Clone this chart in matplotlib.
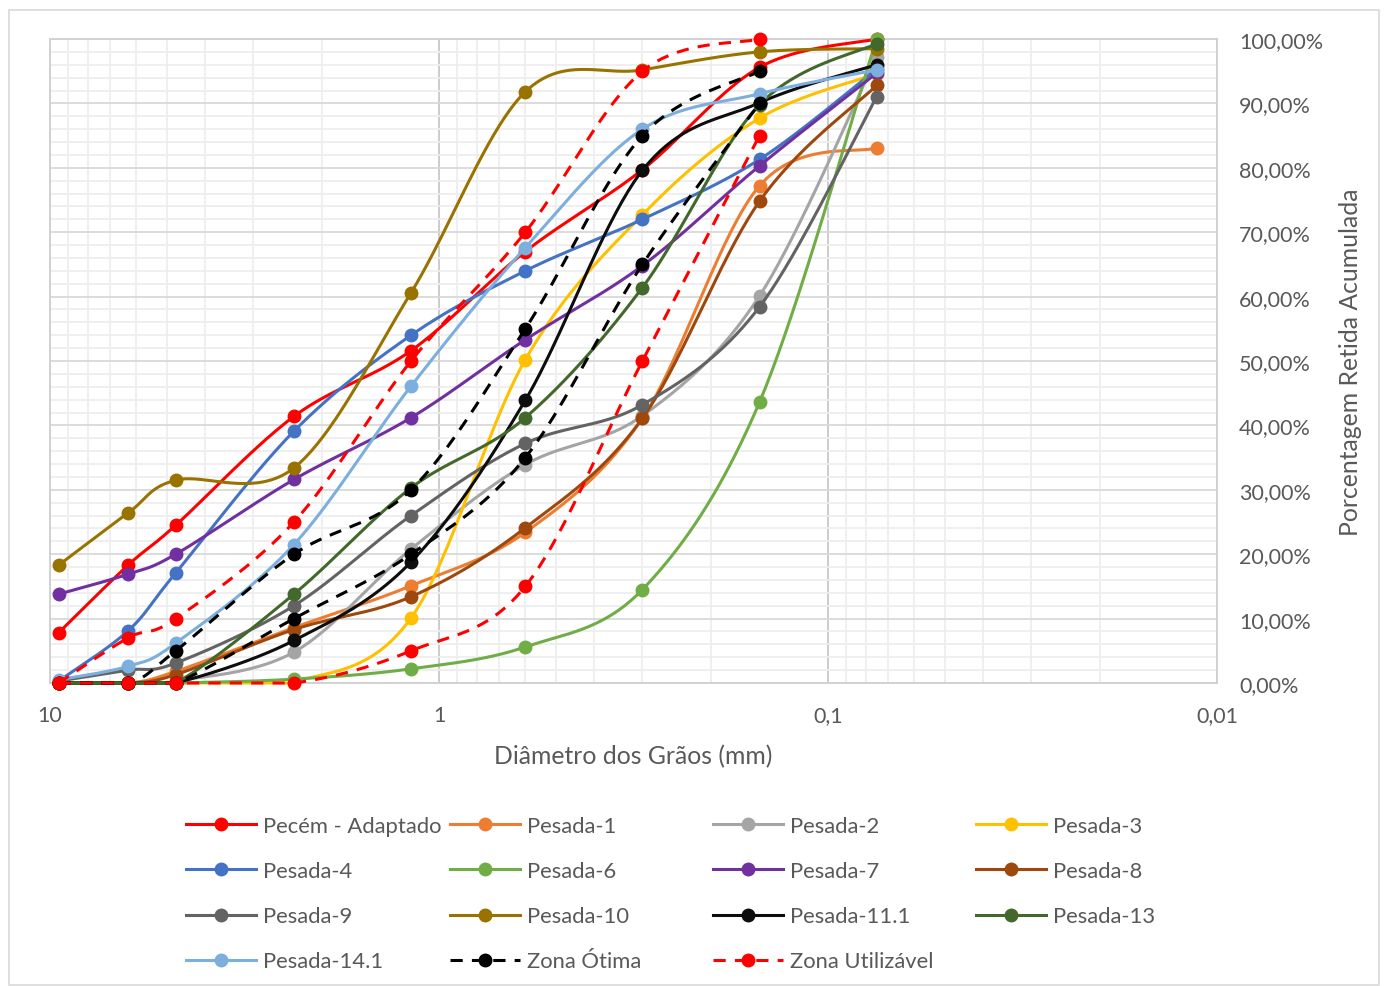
import numpy as np
import matplotlib
matplotlib.use("Agg")
import matplotlib.pyplot as plt
from matplotlib.lines import Line2D
from matplotlib.patches import Rectangle
from matplotlib.ticker import FixedLocator, FuncFormatter, MultipleLocator, LogLocator, NullFormatter

plt.rcParams['font.family'] = ['Lato', 'DejaVu Sans']

# Sieve openings (mm) and cumulative retained percentages
sieve_mm = [9.5, 6.3, 4.75, 2.36, 1.18, 0.6, 0.3, 0.15, 0.075]

pecem_adaptado = [7.8, 18.3, 24.5, 41.4, 51.6, 67.0, 79.7, 95.6, 100.0]
pesada_1 = [0.0, 0.0, 1.8, 8.6, 15.1, 23.4, 41.1, 77.2, 83.1]
pesada_2 = [0.0, 0.0, 0.3, 4.8, 20.8, 33.9, 41.5, 60.1, 97.2]
pesada_3 = [0.0, 0.0, 0.0, 0.2, 10.1, 50.2, 72.7, 87.7, 94.6]
pesada_4 = [0.3, 8.1, 17.1, 39.1, 54.0, 64.0, 72.0, 81.3, 95.3]
pesada_6 = [0.0, 0.0, 0.0, 0.6, 2.2, 5.6, 14.5, 43.6, 100.0]
pesada_7 = [13.8, 16.9, 20.0, 31.6, 41.2, 53.3, 64.8, 80.3, 94.7]
pesada_8 = [0.0, 0.0, 1.3, 8.3, 13.4, 24.1, 41.1, 74.8, 92.8]
pesada_9 = [0.3, 2.0, 3.1, 12.0, 26.0, 37.2, 43.2, 58.4, 91.0]
pesada_10 = [18.3, 26.4, 31.5, 33.4, 60.6, 91.8, 95.2, 98.0, 98.5]
pesada_11_1 = [0.0, 0.0, 0.0, 6.6, 18.8, 43.9, 79.6, 90.1, 96.0]
pesada_13 = [0.0, 0.0, 0.0, 13.8, 30.3, 41.2, 61.4, 89.8, 99.3]
pesada_14_1 = [0.5, 2.6, 6.2, 21.5, 46.1, 67.6, 86.0, 91.5, 95.2]

# Grading limits (up to the 0.15 mm sieve)
zona_otima_inf = [0, 0, 0, 10, 20, 35, 65, 90]
zona_otima_sup = [0, 0, 5, 20, 30, 55, 85, 95]
zona_util_inf = [0, 0, 0, 0, 5, 15, 50, 85]
zona_util_sup = [0, 7, 10, 25, 50, 70, 95, 100]

x_tick_values = [10, 1, 0.1, 0.01]
x_tick_labels = ["10", "1", "0,1", "0,01"]

TEXT = "#595959"

# (label, values, color, dashed)
series = [
    ("Pecém - Adaptado", pecem_adaptado, "#FF0000", False),
    ("Pesada-1", pesada_1, "#ED7D31", False),
    ("Pesada-2", pesada_2, "#A5A5A5", False),
    ("Pesada-3", pesada_3, "#FFC000", False),
    ("Pesada-4", pesada_4, "#4472C4", False),
    ("Pesada-6", pesada_6, "#70AD47", False),
    ("Pesada-7", pesada_7, "#7030A0", False),
    ("Pesada-8", pesada_8, "#9E480E", False),
    ("Pesada-9", pesada_9, "#636363", False),
    ("Pesada-10", pesada_10, "#997300", False),
    ("Pesada-11.1", pesada_11_1, "#0D0D0D", False),
    ("Pesada-13", pesada_13, "#43682B", False),
    ("Pesada-14.1", pesada_14_1, "#7CAFDD", False),
    ("Zona Ótima", zona_otima_inf, "#000000", True),
    (None, zona_otima_sup, "#000000", True),
    ("Zona Utilizável", zona_util_inf, "#FF0000", True),
    (None, zona_util_sup, "#FF0000", True),
]


def smooth_curve(x, y, steps=40):
    """Bezier smoothing through the points (Catmull-Rom style control points),
    evaluated in log10(x) space so it follows the log axis."""
    lx = np.log10(np.asarray(x, float))
    yy = np.asarray(y, float)
    px = np.concatenate([[lx[0]], lx, [lx[-1]]])
    py = np.concatenate([[yy[0]], yy, [yy[-1]]])
    t = np.linspace(0, 1, steps + 1)[1:]
    out_x, out_y = [lx[0]], [yy[0]]
    for i in range(len(lx) - 1):
        p0 = np.array([px[i], py[i]])
        p1 = np.array([px[i + 1], py[i + 1]])
        p2 = np.array([px[i + 2], py[i + 2]])
        p3 = np.array([px[i + 3], py[i + 3]])
        c1 = p1 + (p2 - p0) / 6.0
        c2 = p2 - (p3 - p1) / 6.0
        b = ((1 - t) ** 3)[:, None] * p1 + (3 * (1 - t) ** 2 * t)[:, None] * c1 \
            + (3 * (1 - t) * t ** 2)[:, None] * c2 + (t ** 3)[:, None] * p2
        out_x.extend(b[:, 0])
        out_y.extend(b[:, 1])
    out_y = np.clip(out_y, 0, 100)
    return 10 ** np.asarray(out_x), out_y


W, H, DPI = 1388, 987, 100
fig = plt.figure(figsize=(W / DPI, H / DPI), dpi=DPI)
fig.patch.set_facecolor("white")

# chart area outline
fig.add_artist(Rectangle((8.5 / W, 1 - 985.5 / H), (1378.5 - 8.5) / W, (985.5 - 10.5) / H,
                         transform=fig.transFigure, fill=False, edgecolor="#D9D9D9", lw=1.2))

ax = fig.add_axes([50 / W, 1 - 684 / H, (1217 - 50) / W, (684 - 40) / H])
ax.set_xscale("log")
ax.set_xlim(10, 0.01)
ax.set_ylim(0, 100)

LW = 2.2
MS = 9
handles = {}
for k, (label, vals, color, dashed) in enumerate(series):
    xs = sieve_mm[:len(vals)]
    sx, sy = smooth_curve(xs, vals)
    ls_kw = dict(dashes=(4, 3)) if dashed else dict(linestyle="-")
    ax.plot(sx, sy, color=color, lw=LW, solid_capstyle="round", dash_capstyle="butt",
            clip_on=False, zorder=3 + 2 * k, **ls_kw)
    ax.plot(xs, vals, linestyle="none", marker="o", ms=MS, color=color, mec=color,
            clip_on=False, zorder=4 + 2 * k)
    if label:
        handles[label] = Line2D([], [], color=color, lw=LW, marker="o", ms=MS, mec=color, **ls_kw)

# ticks and grid
ax.xaxis.set_major_locator(FixedLocator(x_tick_values))
ax.xaxis.set_major_formatter(FuncFormatter(lambda v, p: dict(zip(x_tick_values, x_tick_labels)).get(v, "")))
ax.xaxis.set_minor_locator(LogLocator(base=10, subs=np.arange(2, 10)))
ax.xaxis.set_minor_formatter(NullFormatter())
ax.yaxis.set_major_locator(MultipleLocator(10))
ax.yaxis.set_minor_locator(MultipleLocator(2))
ax.yaxis.set_major_formatter(FuncFormatter(lambda v, p: f"{v:.2f}%".replace(".", ",")))
ax.yaxis.tick_right()
ax.yaxis.set_label_position("right")
ax.tick_params(which="both", length=0, colors=TEXT, labelsize=15.5)
ax.tick_params(axis="x", pad=16)
ax.tick_params(axis="y", pad=16)

ax.set_axisbelow(True)
ax.grid(which="minor", color="#EEEEEE", lw=1.3)
ax.grid(which="major", axis="y", color="#D9D9D9", lw=1.3)
ax.grid(which="major", axis="x", color="#C8C8C8", lw=1.3)
for s in ax.spines.values():
    s.set_color("#D0D0D0")
    s.set_linewidth(1.3)

ax.set_xlabel("Diâmetro dos Grãos (mm)", fontsize=17.8, color=TEXT, labelpad=13.5)
ax.set_ylabel("Porcentagem Retida Acumulada", fontsize=17.8, color=TEXT, labelpad=11, rotation=90)

# legend laid out as four fixed-width columns, filled row by row
order = ["Pecém - Adaptado", "Pesada-1", "Pesada-2", "Pesada-3",
         "Pesada-4", "Pesada-6", "Pesada-7", "Pesada-8",
         "Pesada-9", "Pesada-10", "Pesada-11.1", "Pesada-13",
         "Pesada-14.1", "Zona Ótima", "Zona Utilizável"]
col_x = [186, 450, 713, 976]
for c, x0 in enumerate(col_x):
    labels = order[c::4]
    leg = fig.legend([handles[l] for l in labels], labels, loc="upper left",
                     bbox_to_anchor=(x0 / W, 1 - 817 / H), bbox_transform=fig.transFigure,
                     frameon=False, fontsize=15.8, handlelength=3.19, handletextpad=0.3,
                     labelspacing=1.145, borderpad=0, borderaxespad=0, numpoints=1)
    for t in leg.get_texts():
        t.set_color(TEXT)

fig.savefig("out.png", dpi=DPI, facecolor="white")
